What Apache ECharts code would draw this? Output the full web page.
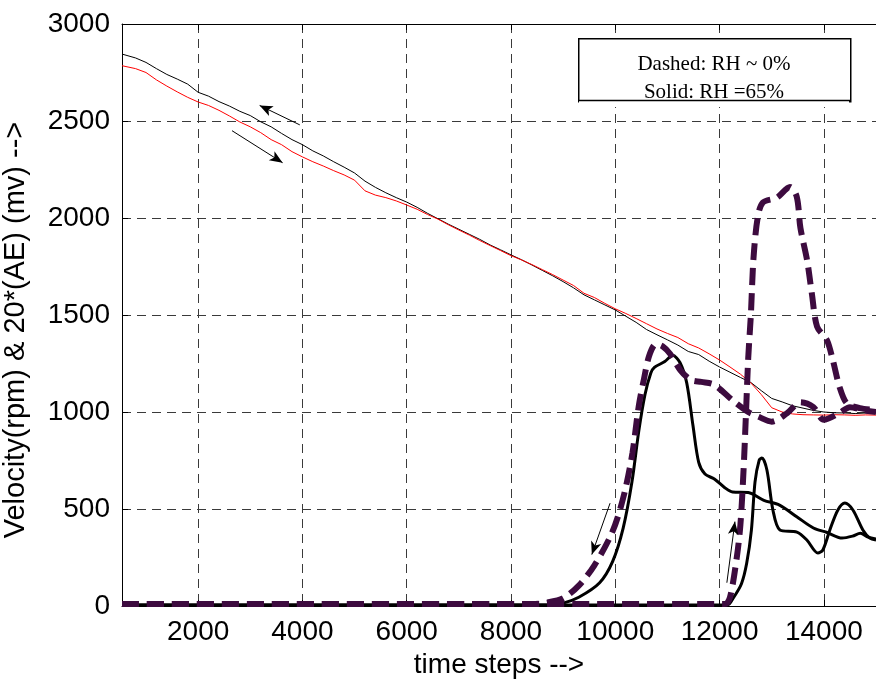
<!DOCTYPE html>
<html>
<head>
<meta charset="utf-8">
<script src="https://cdn.jsdelivr.net/npm/echarts@6/dist/echarts.min.js"></script>
<style>
  html, body { margin: 0; padding: 0; background: #fff; }
  #chart { width: 876px; height: 679px; }
</style>
</head>
<body>
<div id="chart"></div>
<script>
// 速度曲线
const velSteps = [540, 800, 1000, 1200, 1400, 1600, 1800, 2000, 2200, 2400,
  2600, 2800, 3000, 3200, 3400, 3600, 3800, 4000, 4200, 4400,
  4600, 4800, 5000, 5200, 5400, 5600, 5800, 6000, 6200, 6400,
  6600, 6800, 7000, 7200, 7400, 7600, 7800, 8000, 8200, 8400,
  8600, 8800, 9000, 9200, 9400, 9600, 9800, 10000, 10200, 10400,
  10600, 10800, 11000, 11200, 11400, 11600, 11800, 12000, 12200, 12400,
  12600, 12800, 13000, 13200, 13400, 13600, 13800, 14000, 14200, 14400,
  14600, 14800, 15000];
const velBlack = [2845, 2825, 2802, 2770, 2740, 2716, 2690, 2648, 2628, 2600,
  2577, 2550, 2528, 2496, 2470, 2436, 2404, 2378, 2346, 2320,
  2290, 2262, 2232, 2190, 2158, 2130, 2105, 2082, 2055, 2024,
  1996, 1968, 1942, 1916, 1890, 1861, 1836, 1810, 1785, 1758,
  1730, 1702, 1672, 1640, 1604, 1578, 1552, 1526, 1494, 1462,
  1425, 1398, 1372, 1345, 1312, 1296, 1262, 1232, 1205, 1178,
  1152, 1110, 1070, 1052, 1032, 1020, 1008, 1000, 996, 995,
  992, 995, 994];
const velRed = [2785, 2770, 2750, 2712, 2680, 2650, 2622, 2598, 2580, 2555,
  2526, 2495, 2470, 2440, 2404, 2378, 2342, 2315, 2290, 2268,
  2244, 2222, 2195, 2140, 2118, 2105, 2088, 2067, 2045, 2018,
  1994, 1965, 1938, 1912, 1884, 1858, 1832, 1806, 1784, 1760,
  1734, 1708, 1680, 1652, 1612, 1590, 1560, 1532, 1508, 1482,
  1455, 1428, 1405, 1384, 1352, 1330, 1300, 1268, 1232, 1195,
  1150, 1090, 1022, 1000, 990, 986, 985, 984, 986, 985,
  983, 985, 984];

// AE 曲线：虚线 RH ~ 0%
const aeDry1X = [540, 8400, 8700, 9000, 9300, 9600, 9900, 10050, 10200, 10330,
  10450, 10550, 10650, 10780, 10900, 11050, 11250, 11450, 11650, 11900,
  12250, 12550, 12750, 13000, 13300, 13550, 13800, 14000, 14300, 14500,
  14750, 15000];
const aeDry1Y = [10, 10, 18, 40, 105, 210, 355, 460, 610, 790,
  1030, 1170, 1290, 1350, 1340, 1300, 1215, 1165, 1155, 1140,
  1060, 1000, 975, 950, 995, 1050, 1025, 960, 995, 1025,
  1010, 1000];
const aeDry2X = [540, 12100, 12200, 12330, 12400, 12460, 12500, 12550, 12600, 12650,
  12730, 12830, 13100, 13350, 13480, 13550, 13680, 13770, 13870, 14060,
  14170, 14300, 14440, 14690, 15000];
const aeDry2Y = [10, 10, 45, 250, 420, 700, 950, 1280, 1500, 1790,
  2000, 2080, 2105, 2160, 2110, 1950, 1780, 1610, 1440, 1370,
  1270, 1130, 1045, 1020, 1010];

// AE 曲线：实线 RH = 65%
const aeWet1X = [540, 8700, 9000, 9300, 9700, 9950, 10150, 10320, 10450, 10570,
  10680, 10750, 10950, 11100, 11240, 11370, 11490, 11600, 11720, 11900,
  12100, 12250, 12550, 12850, 13150, 13480, 13800, 14050, 14350, 14550,
  14700, 14850, 15000];
const aeWet1Y = [5, 5, 15, 45, 120, 230, 400, 640, 900, 1090,
  1200, 1230, 1260, 1292, 1255, 1150, 930, 740, 680, 655,
  610, 588, 585, 545, 520, 460, 402, 380, 350, 360,
  375, 355, 345];
const aeWet2X = [540, 12150, 12260, 12420, 12520, 12610, 12680, 12760, 12812, 12908,
  13023, 13157, 13483, 13674, 13885, 13981, 14115, 14269, 14403, 14557,
  14748, 14882, 15000];
const aeWet2Y = [5, 5, 40, 115, 220, 390, 640, 752, 763, 701,
  495, 392, 381, 340, 273, 289, 392, 495, 531, 495,
  392, 350, 340];

// 箭头（数据坐标）
const arrowFrom = [[3950, 2480], [2650, 2450], [9900, 530], [12140, 120]];
const arrowTo = [[3180, 2580], [3620, 2285], [9550, 265], [12295, 435]];

const xMin = 540, xMax = 15000;
const purple = '#3d0b3f';
const font = '"Liberation Sans", Arial, sans-serif';

const pairs = (xs, ys) => xs.map((x, i) => [x, ys[i]]);

document.addEventListener('DOMContentLoaded', () => {
    const myChart = echarts.init(document.getElementById('chart'), null, { renderer: 'canvas' });

    const gridLine = { show: true, lineStyle: { color: '#3a3a3a', width: 1, type: [9, 6] } };

    const option = {
        animation: false,
        backgroundColor: '#fff',
        grid: { left: 122, right: 0, top: 24, bottom: 73, containLabel: false, outerBoundsMode: 'none' },
        xAxis: [
            {
                type: 'value', min: xMin, max: xMax, minInterval: 2000, maxInterval: 2000,
                position: 'bottom',
                name: 'time steps -->', nameLocation: 'middle', nameGap: 40,
                nameTextStyle: { fontSize: 28, color: '#000', fontFamily: font },
                axisLine: { show: true, onZero: false, lineStyle: { color: '#000', width: 1 } },
                axisTick: { show: true, inside: true, length: 6, lineStyle: { color: '#000' } },
                axisLabel: {
                    fontSize: 28, color: '#000', fontFamily: font, margin: 12,
                    formatter: v => (v % 2000 === 0 ? String(v) : '')
                },
                splitLine: gridLine
            },
            {
                type: 'value', min: xMin, max: xMax, minInterval: 2000, maxInterval: 2000,
                position: 'top',
                axisLine: { show: true, onZero: false, lineStyle: { color: '#000', width: 1 } },
                axisTick: { show: true, inside: true, length: 6, lineStyle: { color: '#000' } },
                axisLabel: { show: false },
                splitLine: { show: false }
            }
        ],
        yAxis: {
            type: 'value', min: 0, max: 3000, interval: 500,
            name: 'Velocity(rpm) & 20*(AE) (mv) -->', nameLocation: 'middle', nameGap: 92,
            nameRotate: 90,
            nameTextStyle: { fontSize: 29, color: '#000', fontFamily: font, padding: [0, 30, 0, 0] },
            axisLine: { show: true, lineStyle: { color: '#000', width: 1 } },
            axisTick: { show: true, inside: true, length: 6, lineStyle: { color: '#000' } },
            axisLabel: { fontSize: 28, color: '#000', fontFamily: font, margin: 12, formatter: v => String(v) },
            splitLine: gridLine
        },
        series: [
            {
                name: 'velocity black', type: 'line', symbol: 'none',
                data: pairs(velSteps, velBlack),
                lineStyle: { color: '#000', width: 1 }, z: 2,
                markLine: {
                    silent: true, animation: false,
                    symbol: ['none', 'arrow'], symbolSize: [8, 13],
                    label: { show: false },
                    lineStyle: { color: '#000', width: 1, type: 'solid' },
                    data: arrowFrom.map((p, i) => [{ coord: p }, { coord: arrowTo[i] }])
                }
            },
            {
                name: 'velocity red', type: 'line', symbol: 'none',
                data: pairs(velSteps, velRed),
                lineStyle: { color: '#ff0000', width: 1 }, z: 2
            },
            {
                name: 'AE wet 1', type: 'line', symbol: 'none', smooth: 0.3,
                data: pairs(aeWet1X, aeWet1Y),
                lineStyle: { color: '#000', width: 3 }, z: 3
            },
            {
                name: 'AE wet 2', type: 'line', symbol: 'none', smooth: 0.3,
                data: pairs(aeWet2X, aeWet2Y),
                lineStyle: { color: '#000', width: 3 }, z: 3
            },
            {
                name: 'AE dry 1', type: 'line', symbol: 'none', smooth: 0.3,
                data: pairs(aeDry1X, aeDry1Y),
                lineStyle: { color: purple, width: 6, type: [17, 8] }, z: 4
            },
            {
                name: 'AE dry 2', type: 'line', symbol: 'none', smooth: 0.3,
                data: pairs(aeDry2X, aeDry2Y),
                lineStyle: { color: purple, width: 6, type: [17, 8] }, z: 4
            }
        ],
        graphic: [
            {
                type: 'rect', left: 578, top: 38, z: 100,
                shape: { width: 272, height: 63 },
                style: { fill: '#fff', stroke: '#000', lineWidth: 1.5 }
            },
            {
                type: 'text', x: 714, y: 64, z: 101,
                style: {
                    text: 'Dashed: RH ~ 0%', fill: '#000', align: 'center', verticalAlign: 'middle',
                    font: '21px "Liberation Serif", "Times New Roman", serif'
                }
            },
            {
                type: 'text', x: 714, y: 92, z: 101,
                style: {
                    text: 'Solid: RH =65%', fill: '#000', align: 'center', verticalAlign: 'middle',
                    font: '21px "Liberation Serif", "Times New Roman", serif'
                }
            },
            {
                type: 'rect', left: 579, top: 101, z: 102,
                shape: { width: 270, height: 6 },
                style: { fill: '#fff' }
            },
            {
                type: 'line', z: 103,
                shape: { x1: 578, y1: 100.5, x2: 850, y2: 100.5 },
                style: { stroke: '#000', lineWidth: 1.5 }
            }
        ]
    };

    myChart.setOption(option, true);
});
</script>
</body>
</html>
